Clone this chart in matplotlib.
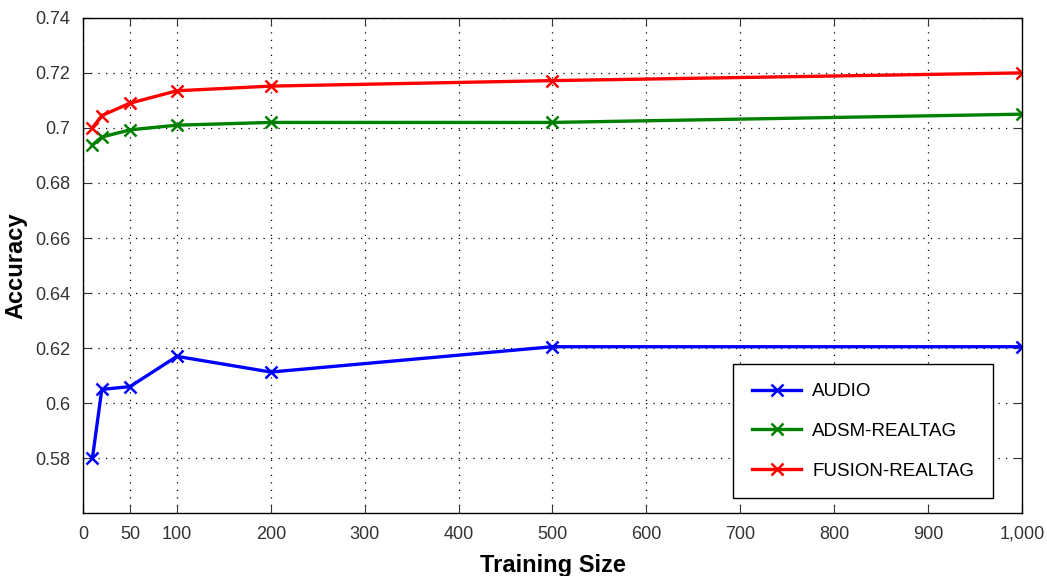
import matplotlib
matplotlib.use("Agg")
import matplotlib.pyplot as plt
from matplotlib.ticker import FuncFormatter

# training sizes and accuracies per method
train_size = [10, 20, 50, 100, 200, 500, 1000]
audio = [0.580, 0.605, 0.606, 0.617, 0.6113, 0.6205, 0.6205]
adsm_realtag = [0.6938, 0.6967, 0.6993, 0.701, 0.702, 0.702, 0.705]
fusion_realtag = [0.700, 0.7045, 0.709, 0.7135, 0.7152, 0.7172, 0.720]

x_ticks = [0, 50, 100, 200, 300, 400, 500, 600, 700, 800, 900, 1000]
y_ticks = [0.58, 0.60, 0.62, 0.64, 0.66, 0.68, 0.70, 0.72, 0.74]

plt.rcParams['font.family'] = ['Liberation Sans', 'DejaVu Sans']

fig = plt.figure(figsize=(10.47, 5.76), dpi=100)
ax = fig.add_axes([0.0793, 0.109, 0.8967, 0.860])

ax.plot(train_size, audio, color='#0000ff', lw=2.4, marker='x', ms=8, mew=1.8, label='AUDIO')
ax.plot(train_size, adsm_realtag, color='#008000', lw=2.4, marker='x', ms=8, mew=1.8, label='ADSM-REALTAG')
ax.plot(train_size, fusion_realtag, color='#ff0000', lw=2.4, marker='x', ms=8, mew=1.8, label='FUSION-REALTAG')

ax.set_xlim(0, 1000)
ax.set_ylim(0.56, 0.74)
ax.set_xticks(x_ticks)
ax.set_yticks(y_ticks)
ax.xaxis.set_major_formatter(FuncFormatter(lambda v, p: f"{int(v):,}"))
ax.yaxis.set_major_formatter(FuncFormatter(lambda v, p: f"{v:g}"))
ax.tick_params(direction='in', length=6, top=True, right=True, labelsize=13, colors='#333333', pad=9)
ax.grid(True, ls=(0, (1, 5)), color='black', lw=0.9)
for s in ax.spines.values():
    s.set_linewidth(1.0)

ax.set_xlabel('Training Size', fontsize=17, fontweight='bold', labelpad=8)
ax.set_ylabel('Accuracy', fontsize=17, fontweight='bold', labelpad=6)

leg = ax.legend(loc='lower right', bbox_to_anchor=(0.969, 0.03), borderaxespad=0,
                fontsize=13.5, fancybox=False, framealpha=1, edgecolor='black',
                borderpad=1.0, labelspacing=1.2, handlelength=2.6, handletextpad=0.6)
leg.get_frame().set_linewidth(1.0)

fig.savefig('out.png', dpi=100)
